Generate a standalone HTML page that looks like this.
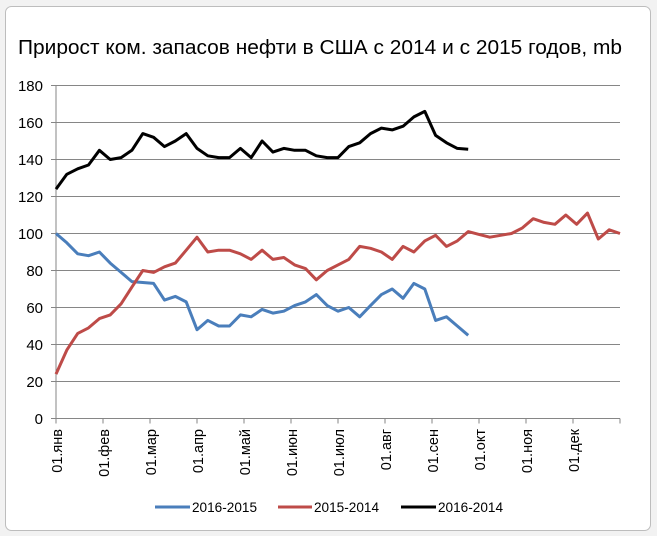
<!DOCTYPE html>
<html><head><meta charset="utf-8"><style>
html,body{margin:0;padding:0;background:#e9e9e9;}
svg{display:block;font-family:"Liberation Sans",sans-serif;}
</style></head><body>
<svg width="657" height="536" viewBox="0 0 657 536" xmlns="http://www.w3.org/2000/svg">
<rect x="0" y="0" width="657" height="536" fill="#f2f2f2"/>
<rect x="5.5" y="6.5" width="645" height="524" rx="6" fill="#fff" stroke="#bdbdbd"/>
<text x="320" y="54" font-size="20" text-anchor="middle" textLength="604" lengthAdjust="spacingAndGlyphs">Прирост ком. запасов нефти в США с 2014 и с 2015 годов, mb</text>
<g id="grid" stroke="#868686" stroke-width="1"></g>
<g id="ylab" font-size="15" text-anchor="end"></g>
<g id="xlab" font-size="14.5"></g>
<g id="series" fill="none" stroke-width="3" stroke-linejoin="round"></g>
<g font-size="13.5">
<line x1="155" y1="507" x2="190" y2="507" stroke="#4a7ebb" stroke-width="3"/>
<text x="192" y="512" textLength="65" lengthAdjust="spacingAndGlyphs">2016-2015</text>
<line x1="278" y1="507" x2="312" y2="507" stroke="#be4b48" stroke-width="3"/>
<text x="314" y="512" textLength="65" lengthAdjust="spacingAndGlyphs">2015-2014</text>
<line x1="401" y1="507" x2="436" y2="507" stroke="#000" stroke-width="3"/>
<text x="438" y="512" textLength="65" lengthAdjust="spacingAndGlyphs">2016-2014</text>
</g>
</svg>
<script>
var ns="http://www.w3.org/2000/svg";
function el(p,t,a,txt){var e=document.createElementNS(ns,t);for(var k in a)e.setAttribute(k,a[k]);if(txt!==undefined)e.textContent=txt;document.getElementById(p).appendChild(e);return e;}
var x0=56,x1=620,y0=418.5,k=1.85;
for(var v=0;v<=180;v+=20){var y=y0-v*k;el("grid","line",{x1:x0-5,x2:x1,y1:y,y2:y});el("ylab","text",{x:43,y:y+5.5},v);}
el("grid","line",{x1:x0,x2:x0,y1:y0-180*k,y2:y0});
var mons=["янв","фев","мар","апр","май","июн","июл","авг","сен","окт","ноя","дек"];
for(var i=0;i<=12;i++){var x=x0+i*(x1-x0)/12;el("grid","line",{x1:x,x2:x,y1:y0,y2:y0+5});
if(i<12)el("xlab","text",{x:0,y:0,transform:"translate("+(x+6)+",429) rotate(-90)","text-anchor":"end"},"01."+mons[i]);}
var dx=(x1-x0)/52;
function line(d,c){var p=d.map(function(v,i){return (x0+i*dx).toFixed(1)+","+(y0-v*k).toFixed(1)}).join(" ");el("series","polyline",{points:p,stroke:c});}
line([100,95,89,88,90,84,79,74,73.5,73,64,66,63,48,53,50,50,56,55,59,57,58,61,63,67,61,58,60,55,61,67,70,65,73,70,53,55,50,45],"#4a7ebb");
line([24,37,46,49,54,56,62,71,80,79,82,84,91,98,90,91,91,89,86,91,86,87,83,81,75,80,83,86,93,92,90,86,93,90,96,99,93,96,101,99.5,98,99,100,103,108,106,105,110,105,111,97,102,100],"#be4b48");
line([124,132,135,137,145,140,141,145,154,152,147,150,154,146,142,141,141,146,141,150,144,146,145,145,142,141,141,147,149,154,157,156,158,163,166,153,149,146,145.5],"#000");
</script>
</body></html>
